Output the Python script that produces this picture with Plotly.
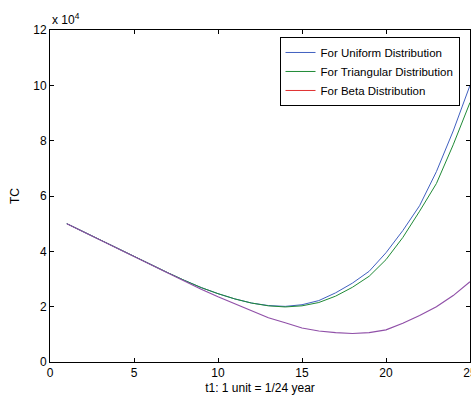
import plotly.graph_objects as go

t1 = list(range(1, 26))
uniform = [5.0, 4.7, 4.42, 4.12, 3.82, 3.52, 3.23, 2.95, 2.69, 2.47, 2.28, 2.13, 2.04, 2.01, 2.07,
           2.22, 2.50, 2.85, 3.28, 3.95, 4.75, 5.65, 6.88, 8.35, 10.0]
triangular = [5.0, 4.7, 4.42, 4.12, 3.82, 3.52, 3.23, 2.95, 2.69, 2.47, 2.28, 2.13, 2.03, 1.99, 2.03,
              2.15, 2.38, 2.70, 3.10, 3.70, 4.50, 5.45, 6.45, 7.85, 9.38]
beta = [5.0, 4.7, 4.42, 4.12, 3.82, 3.52, 3.22, 2.93, 2.63, 2.36, 2.10, 1.84, 1.60, 1.42, 1.23,
        1.12, 1.06, 1.03, 1.06, 1.16, 1.40, 1.68, 2.00, 2.40, 2.90]
names = ["For Uniform Distribution", "For Triangular Distribution", "For Beta Distribution"]
x_ticks = [0, 5, 10, 15, 20, 25]
y_ticks = [0, 2, 4, 6, 8, 10, 12]

font = "Liberation Sans, Arial, sans-serif"

fig = go.Figure()
fig.add_trace(go.Scatter(x=t1, y=uniform, mode="lines", name=names[0],
                         line=dict(color="#4060c0", width=1)))
fig.add_trace(go.Scatter(x=t1, y=triangular, mode="lines", name=names[1],
                         line=dict(color="#1f8a36", width=1)))
# legend swatch for Beta (red in reference legend)
fig.add_trace(go.Scatter(x=[None], y=[None], mode="lines", name=names[2],
                         line=dict(color="#e03030", width=1)))
fig.add_trace(go.Scatter(x=t1, y=beta, mode="lines", name=names[2], showlegend=False,
                         line=dict(color="#9050a8", width=1.2)))

axis_common = dict(showline=True, linecolor="black", linewidth=1, mirror="ticks",
                   ticks="inside", ticklen=4, tickcolor="black", showgrid=False,
                   zeroline=False, automargin=False,
                   tickfont=dict(family=font, size=12, color="black"))

fig.update_layout(
    width=471, height=397,
    margin=dict(l=50, r=1, t=30, b=35),
    paper_bgcolor="white", plot_bgcolor="white",
    font=dict(family=font, size=12, color="black"),
    xaxis=dict(range=[0, 25], tickvals=x_ticks, ticklabeloverflow="allow", **axis_common,
               title=dict(text="t1: 1 unit = 1/24 year", font=dict(size=12), standoff=4)),
    yaxis=dict(range=[0, 12], tickvals=y_ticks, **axis_common,
               title=dict(text="TC", font=dict(size=12), standoff=11)),
    legend=dict(x=0.975, y=0.979, xanchor="right", yanchor="top",
                bgcolor="white", bordercolor="black", borderwidth=1,
                font=dict(family=font, size=11.5), itemwidth=30, tracegroupgap=0),
    annotations=[dict(text="x 10<sup>4</sup>", xref="paper", yref="paper", x=0.0, y=1.0,
                      xanchor="left", yanchor="bottom", showarrow=False,
                      font=dict(family=font, size=12), yshift=1)],
)

fig.write_html("out.html", config={"displayModeBar": False},
               post_script="document.body.style.margin='0';document.body.style.overflow='hidden';")
